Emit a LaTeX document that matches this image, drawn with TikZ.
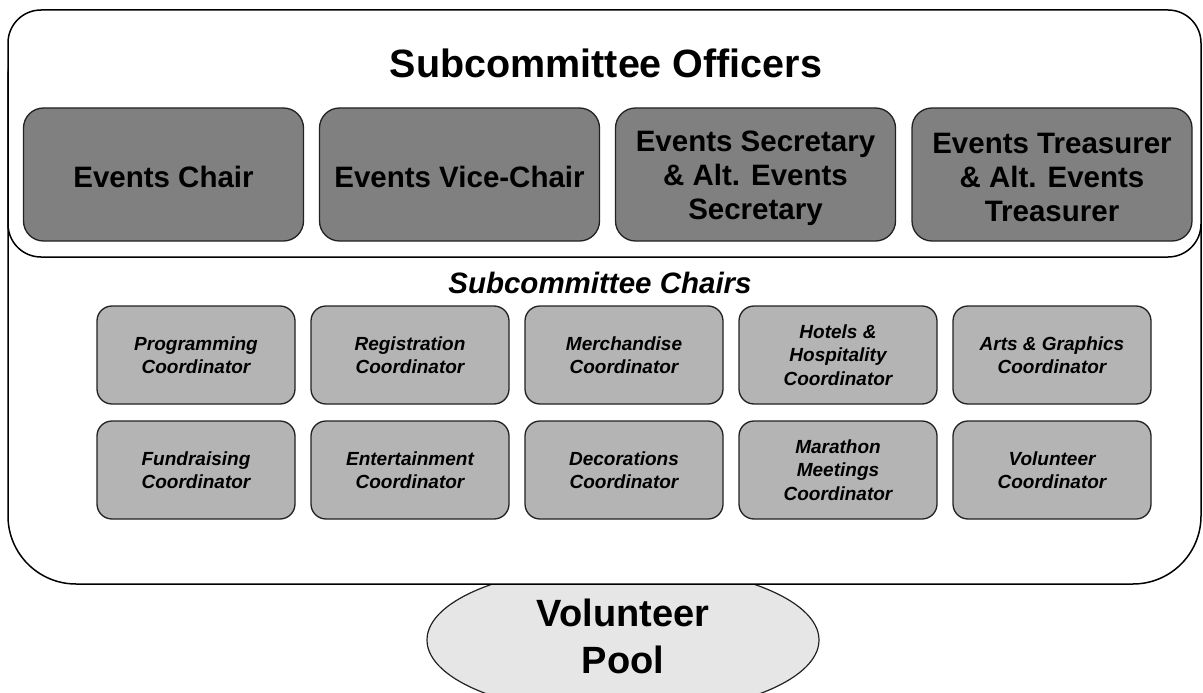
\documentclass[tikz,border=0pt]{standalone}
\usepackage{fontspec}
\setmainfont{Liberation Sans}
\usetikzlibrary{shapes.geometric}
\definecolor{offgray}{HTML}{808080}
\definecolor{coordgray}{HTML}{B4B4B4}
\definecolor{poolgray}{HTML}{E6E6E6}
\definecolor{edge}{HTML}{222222}
\tikzset{
  container/.style={draw=black, fill=white, line width=1.5pt, inner sep=0pt},
  officerbox/.style={draw=edge, fill=offgray, line width=1.3pt, rounded corners=20pt,
    minimum width=280pt, minimum height=133pt, inner sep=0pt, align=center,
    font=\fontsize{29.5}{34}\selectfont\bfseries},
  offtext/.style={align=center, font=\fontsize{29.5}{34}\selectfont\bfseries},
  coordbox/.style={draw=edge, fill=coordgray, line width=1.3pt, rounded corners=15pt,
    minimum width=198pt, minimum height=98pt, inner sep=0pt, align=center,
    font=\fontsize{19}{23.5}\selectfont\bfseries\itshape},
}
\begin{document}
\begin{tikzpicture}[x=1pt,y=-1pt]
\useasboundingbox (0,0) rectangle (1203,693);
% volunteer pool (behind the main container)
\node[ellipse, draw=edge, fill=poolgray, line width=1.2pt, minimum width=392pt, minimum height=150pt, inner sep=0pt] (pool) at (623,640) {};
\node[align=center, font=\fontsize{38}{47}\selectfont\bfseries] (pooltext) at (623,636) {Volunteer\\Pool};
% containers
\node[container, rounded corners=68pt, minimum width=1193pt, minimum height=574pt] (outer) at (604.5,297) {};
\node[container, rounded corners=33pt, minimum width=1193pt, minimum height=247pt] (officers) at (604.5,133.5) {};
% titles
\node[font=\fontsize{39.5}{46}\selectfont\bfseries] (offtitle) at (606,63) {Subcommittee Officers};
\node[font=\fontsize{29.5}{34}\selectfont\bfseries\itshape] (chairtitle) at (600,283) {Subcommittee Chairs};
% officer boxes
\node[officerbox] (chair) at (163.5,174.5) {};
\node[officerbox] (vice) at (459.5,174.5) {};
\node[officerbox] (sec) at (755.5,174.5) {};
\node[officerbox] (tre) at (1052,174.5) {};
\node[offtext] (chairt) at (163.5,177) {Events Chair};
\node[offtext] (vicet) at (459.5,177) {Events Vice-Chair};
\node[offtext] (sect) at (755.5,178.5) {Events Secretary\\\& Alt. Events\\Secretary};
\node[offtext] (tret) at (1052,177.5) {Events Treasurer\\\& Alt. Events\\Treasurer};
% coordinator boxes row 1
\node[coordbox] (prog) at (196,355) {Programming\\Coordinator};
\node[coordbox] (reg) at (410,355) {Registration\\Coordinator};
\node[coordbox] (merch) at (624,355) {Merchandise\\Coordinator};
\node[coordbox] (hotel) at (838,355) {Hotels \&\\Hospitality\\Coordinator};
\node[coordbox] (arts) at (1052,355) {Arts \& Graphics\\Coordinator};
% coordinator boxes row 2
\node[coordbox] (fund) at (196,470) {Fundraising\\Coordinator};
\node[coordbox] (ent) at (410,470) {Entertainment\\Coordinator};
\node[coordbox] (deco) at (624,470) {Decorations\\Coordinator};
\node[coordbox] (mara) at (838,470) {Marathon\\Meetings\\Coordinator};
\node[coordbox] (vol) at (1052,470) {Volunteer\\Coordinator};
\end{tikzpicture}
\end{document}
